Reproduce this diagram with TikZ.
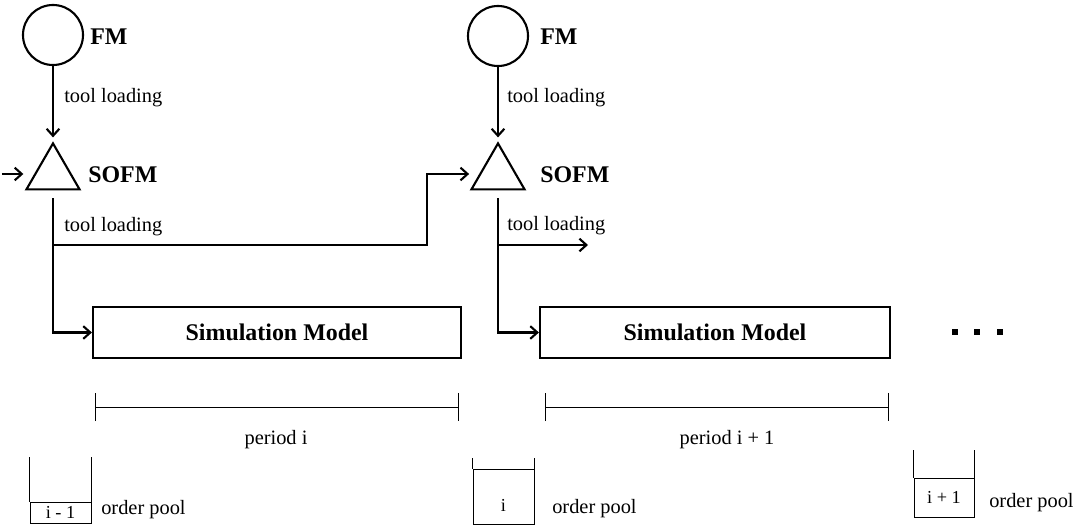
\documentclass[tikz,border=0pt]{standalone}
\usepackage{fontspec}
\setmainfont{Liberation Serif}
\usetikzlibrary{arrows.meta,shapes.geometric}

\begin{document}
\begin{tikzpicture}[x=0.025cm,y=-0.025cm]
\tikzstyle{fmNode}=[circle,draw,line width=1.5pt,minimum size=1.5cm,inner sep=0pt]
\tikzstyle{sofmNode}=[regular polygon,regular polygon sides=3,draw,line width=1.5pt,minimum size=1.53cm,inner sep=0pt,outer sep=0pt]
\tikzstyle{simBox}=[rectangle,draw,line width=1.5pt,minimum height=1.275cm,inner sep=0pt,font=\fontsize{17}{20}\selectfont\bfseries]
\tikzstyle{bigLabel}=[anchor=west,inner sep=0pt,font=\fontsize{17}{20}\selectfont\bfseries]
\tikzstyle{smallLabel}=[inner sep=0pt,font=\fontsize{14.5}{17}\selectfont]
\tikzstyle{flow}=[line width=1.5pt,-{Straight Barb[length=5pt,width=9pt]}]
\tikzstyle{span}=[line width=0.7pt,{Bar[width=0.7cm]}-{Bar[width=0.7cm]}]
\tikzstyle{poolBox}=[rectangle,draw,line width=0.7pt,inner sep=0pt,font=\fontsize{13}{15}\selectfont]
\tikzstyle{dot}=[rectangle,fill=black,minimum size=0.16cm,inner sep=0pt]
\useasboundingbox (0,0) rectangle (1081,526);

%first period
\node[fmNode]   (fmA)   at (53,35) {};
\node[bigLabel] (fmA-lbl) at (90,37) {FM};
\node[sofmNode] (sofmA) at (53,174) {};
\node[bigLabel] (sofmA-lbl) at (88,175) {SOFM};
\node[smallLabel,anchor=west] (loadA1) at (64,98) {tool loading};
\node[smallLabel,anchor=west] (loadA2) at (64,227) {tool loading};
\node[simBox,minimum width=9.2cm] (simA) at (277,332.5) {Simulation Model};

%second period
\node[fmNode]   (fmB)   at (498,36) {};
\node[bigLabel] (fmB-lbl) at (540,37) {FM};
\node[sofmNode] (sofmB) at (498,174) {};
\node[bigLabel] (sofmB-lbl) at (540,175) {SOFM};
\node[smallLabel,anchor=west] (loadB1) at (507,98) {tool loading};
\node[smallLabel,anchor=west] (loadB2) at (507,226) {tool loading};
\node[simBox,minimum width=8.75cm] (simB) at (715,332.5) {Simulation Model};

%more periods follow
\node[dot] (dot1) at (955,332) {};
\node[dot] (dot2) at (977,332) {};
\node[dot] (dot3) at (1000,332) {};

%free ends and bends
\coordinate (feedA) at (2,174);
\coordinate (forkA) at (53,245);
\coordinate (riseA) at (427,245);
\coordinate (forkB) at (498,245);
\coordinate (outB)  at (588,245);

% connections
\draw[flow,shorten >=0.15cm] (fmA) -- (sofmA);
\draw[flow,shorten >=0.15cm] (fmB) -- (sofmB);
\draw[flow,shorten >=0.3cm] (feedA) -- (sofmA);
\draw[flow] ([yshift=-0.22cm]sofmA.south) |- (simA);
\draw[flow] ([yshift=-0.22cm]sofmB.south) |- (simB);
\draw[flow,shorten >=0.28cm] (forkA) -- (riseA) |- (sofmB);
\draw[flow] (forkB) -- (outB);

%periods
\coordinate (spanA-start) at (95,407);
\coordinate (spanA-end)   at (459,407);
\coordinate (spanB-start) at (545,407);
\coordinate (spanB-end)   at (889,407);
\draw[span] (spanA-start) -- (spanA-end);
\draw[span] (spanB-start) -- (spanB-end);
\node[smallLabel] (periodA) at (276,440) {period i};
\node[smallLabel] (periodB) at (727,440) {period i + 1};

%order pools
\node[poolBox,minimum width=1.525cm,minimum height=0.525cm] (poolA) at (60.5,512.5) {i - 1};
\node[poolBox,minimum width=1.525cm,minimum height=1.375cm] (poolB) at (503.5,496.5) {\raisebox{-0.37cm}[0pt][0pt]{i}};
\node[poolBox,minimum width=1.5cm,minimum height=0.975cm] (poolC) at (944,497.5) {i + 1};
\draw[line width=0.7pt] (poolA.north west) -- ++(0,-45);
\draw[line width=0.7pt] (poolA.north east) -- ++(0,-45);
\draw[line width=0.7pt] (poolB.north west) -- ++(0,-11);
\draw[line width=0.7pt] (poolB.north east) -- ++(0,-11);
\draw[line width=0.7pt] (poolC.north west) -- ++(0,-28);
\draw[line width=0.7pt] (poolC.north east) -- ++(0,-28);
\node[smallLabel,anchor=west] (orderA) at (101,510) {order pool};
\node[smallLabel,anchor=west] (orderB) at (552,509) {order pool};
\node[smallLabel,anchor=west] (orderC) at (989,503) {order pool};

\end{tikzpicture}
\end{document}
